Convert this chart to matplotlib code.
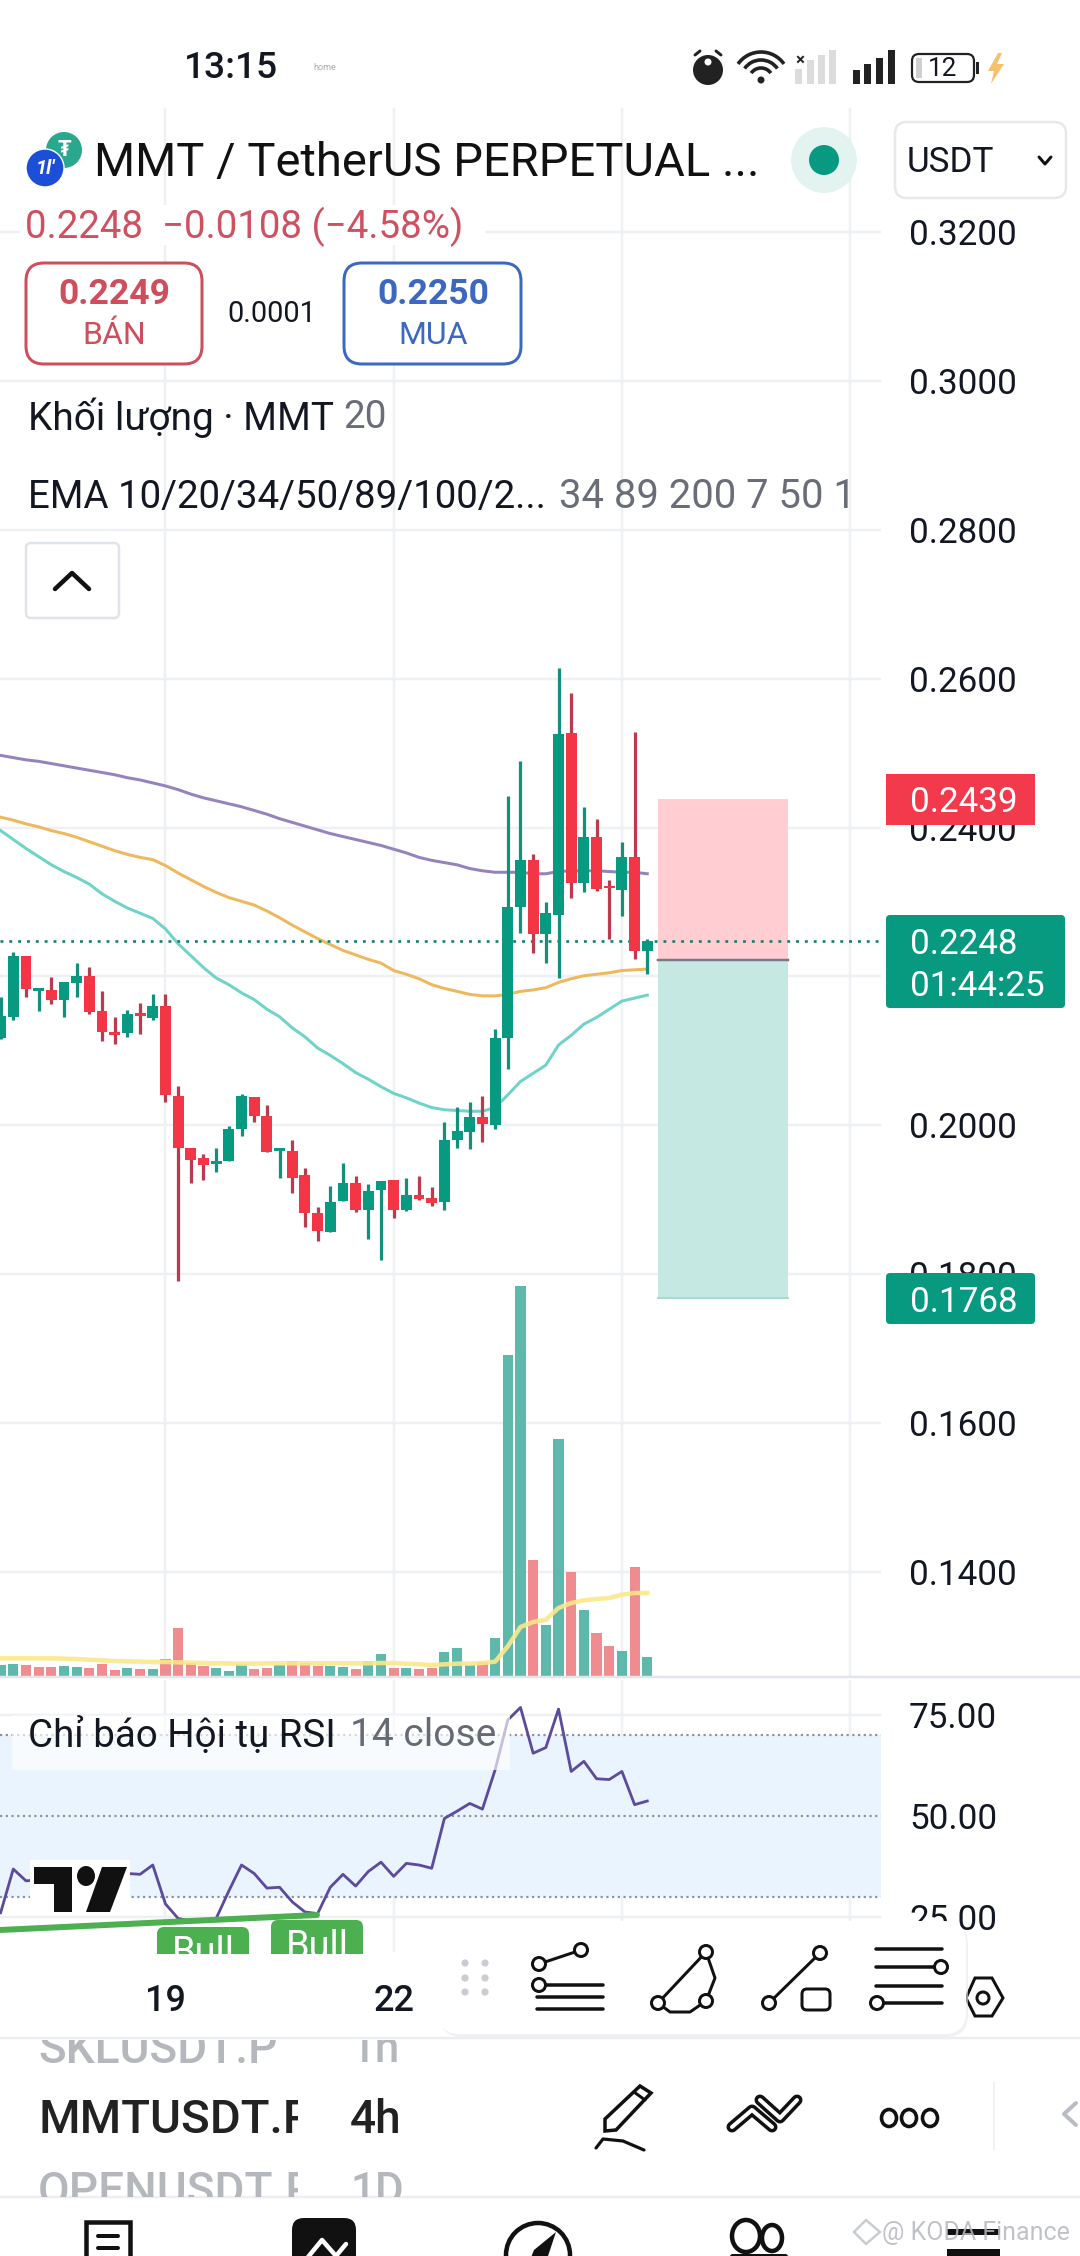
import matplotlib
matplotlib.use("Agg")
import matplotlib.pyplot as plt
from matplotlib.patches import Rectangle, FancyBboxPatch, Circle, Polygon, Arc, Ellipse

plt.rcParams["font.family"] = ["Roboto", "DejaVu Sans"]

# candles, one per 4h bar
opens = [.2117, .2145, .2227, .2180, .2182, .2169, .2191, .2201, .2154, .2126, .2124, .2151, .2144,
         .2160, .2040, .1969, .1956, .1948, .1952, .1995, .2038, .2013, .1966, .1966, .1933, .1882,
         .1857, .1898, .1923, .1887, .1913, .1926, .1886, .1907, .1902, .1897, .1980, .1991, .2011,
         .2000, .2118, .2294, .2357, .2257, .2282, .2527, .2326, .2388, .2322, .2316, .2360, .2234]
highs = [.2173, .2233, .2227, .2185, .2199, .2192, .2218, .2213, .2180, .2145, .2155, .2164, .2177,
         .2176, .2053, .1969, .1961, .1969, .1999, .2042, .2038, .2028, .1970, .1981, .1943, .1891,
         .1918, .1950, .1932, .1921, .1925, .1927, .1929, .1932, .1917, .2005, .2025, .2032, .2039,
         .2129, .2443, .2489, .2364, .2300, .2614, .2581, .2427, .2411, .2330, .2381, .2528, .2250]
lows = [.2116, .2142, .2173, .2153, .2163, .2146, .2172, .2150, .2113, .2110, .2119, .2123, .2141,
        .2032, .1791, .1923, .1927, .1937, .1952, .1986, .2005, .1964, .1930, .1909, .1864, .1845,
        .1857, .1898, .1884, .1847, .1819, .1876, .1885, .1900, .1892, .1886, .1969, .1968, .1978,
        .1995, .2076, .2259, .2231, .2218, .2198, .2306, .2313, .2315, .2251, .2281, .2223, .2203]
closes = [.2147, .2228, .2183, .2184, .2168, .2192, .2201, .2152, .2125, .2122, .2150, .2147, .2160,
          .2041, .1969, .1953, .1947, .1952, .1995, .2040, .2012, .1964, .1969, .1930, .1882, .1858,
          .1897, .1923, .1886, .1912, .1925, .1887, .1907, .1901, .1896, .1981, .1992, .2011, .2002,
          .2118, .2294, .2357, .2257, .2285, .2526, .2326, .2388, .2318, .2319, .2360, .2234, .2248]

ema_purple = [.2497, .2494, .2491, .2489, .2486, .2483, .2480, .2477, .2474, .2471, .2467, .2464, .2460,
              .2456, .2451, .2445, .2440, .2436, .2432, .2428, .2423, .2418, .2412, .2407, .2402, .2397,
              .2392, .2388, .2384, .2380, .2376, .2371, .2366, .2360, .2356, .2353, .2350, .2345, .2342,
              .2340, .2340, .2340, .2338, .2338, .2341, .2342, .2342, .2342, .2341, .2340, .2340, .2338]
ema_orange = [.2414, .2410, .2405, .2401, .2396, .2392, .2387, .2381, .2375, .2369, .2364, .2360, .2357,
              .2349, .2339, .2330, .2321, .2313, .2306, .2301, .2296, .2288, .2279, .2269, .2260, .2251,
              .2243, .2235, .2229, .2223, .2218, .2208, .2203, .2197, .2189, .2184, .2180, .2176, .2174,
              .2174, .2176, .2180, .2182, .2185, .2192, .2197, .2201, .2203, .2205, .2208, .2209, .2210]
ema_teal = [.2396, .2384, .2372, .2361, .2350, .2341, .2333, .2324, .2311, .2301, .2292, .2285, .2278,
            .2264, .2244, .2228, .2212, .2198, .2189, .2178, .2169, .2156, .2146, .2131, .2119, .2104,
            .2094, .2083, .2071, .2062, .2052, .2043, .2037, .2030, .2024, .2021, .2020, .2019, .2019,
            .2024, .2041, .2059, .2070, .2081, .2108, .2121, .2136, .2145, .2156, .2167, .2171, .2175]

volumes = [37, 40, 37, 31, 31, 33, 31, 28, 39, 21, 28, 25, 25, 55, 148, 42, 33, 28, 19, 39, 25, 28, 35, 49,
           42, 34, 33, 31, 25, 48, 70, 28, 28, 25, 28, 76, 88, 36, 44, 118, 967, 1174, 352, 157, 715, 316,
           202, 133, 94, 79, 331, 61]
volume_up = [1, 1, 0, 0, 0, 1, 1, 0, 0, 0, 1, 0, 1, 0, 0, 0, 0, 1, 1, 1, 0, 0, 1, 0, 0, 0, 1, 1, 0, 1, 1, 0,
             1, 0, 0, 1, 1, 1, 0, 1, 1, 1, 0, 1, 1, 0, 1, 0, 0, 1, 0, 1]
volume_ma = [56, 56, 56, 56, 56, 55, 54, 52, 50, 48, 47, 46, 45, 45, 44, 43, 42, 41, 41, 40, 40, 41, 41, 41,
             41, 41, 41, 41, 41, 41, 42, 42, 40, 38, 36, 38, 40, 40, 42, 46, 92, 150, 165, 172, 207, 222,
             230, 234, 237, 247, 252, 252]

rsi = [26.1, 36.9, 34.0, 34.2, 35.6, 36.9, 38.3, 37.4, 36.5, 35.6, 35.8, 35.6, 37.9, 28.3, 24.7, 24.1, 24.1,
       24.7, 31.5, 37.9, 35.8, 32.2, 32.4, 28.8, 26.3, 25.9, 32.4, 35.6, 32.7, 36.3, 38.6, 35.1, 38.3, 37.9,
       37.1, 49.4, 51.2, 53.1, 51.7, 61.4, 73.7, 76.8, 65.5, 66.9, 76.4, 61.0, 63.5, 59.2, 59.0, 61.0, 52.8, 53.7]

price_ticks = [.32, .30, .28, .26, .24, .22, .20, .18, .16, .14]
rsi_ticks = [75, 50, 25]
date_ticks = [13, 31, 49, 67]
date_labels = ["19", "22", "", ""]

last_price = 0.2248
stop_price = 0.2439
entry_price = 0.2222
target_price = 0.1768

UP = "#089981"
DOWN = "#f23645"
GRID = "#eef0f3"
INK = "#131722"
W, H = 1080, 2256
BAR_PX = 12.68
BAR0_PX = 0.6
CHART_R = 881


def pt(px):
    return px * 0.72


def pane(top, bottom):
    return fig.add_axes([0, 1 - bottom / H, CHART_R / W, (bottom - top) / H])


def bar_x(px):
    return (px - BAR0_PX) / BAR_PX


def price_at(y):
    return 0.32 - (y - 232) / 148.9 * 0.02


def rsi_at(y):
    return 50 - (y - 1816) / 4.05


fig = plt.figure(figsize=(W / 100, H / 100), dpi=100, facecolor="white")
bars = list(range(len(closes)))

ax = pane(108, 1677)
ax.set_xlim(bar_x(0), bar_x(CHART_R))
ax.set_ylim(price_at(1677), price_at(108))
ax.set_zorder(3)
ax.patch.set_visible(False)
for s in ax.spines.values():
    s.set_visible(False)
ax.set_xticks(date_ticks)
ax.set_xticklabels([])
ax.set_yticks(price_ticks)
ax.set_yticklabels([f"{v:.4f}" for v in price_ticks])
ax.yaxis.tick_right()
ax.tick_params(axis="both", length=0)
ax.tick_params(axis="y", pad=pt(28), labelsize=pt(35), labelcolor=INK)
ax.grid(True, color=GRID, lw=pt(2.5))
ax.set_axisbelow(True)

# long position tool
ax.fill_between([bar_x(658), bar_x(788)], entry_price, stop_price, color="#ffcdd2", lw=0, zorder=1)
ax.fill_between([bar_x(658), bar_x(788)], target_price, entry_price, color="#c6e8e2", lw=0, zorder=1)
ax.plot([bar_x(658), bar_x(788)], [entry_price, entry_price], color="#787b86", lw=pt(2.5), zorder=1.5)
ax.plot([bar_x(658), bar_x(788)], [target_price, target_price], color="#a6dbd2", lw=pt(2), zorder=1.5)

ax.plot(bars, ema_purple, color="#9583bd", lw=pt(3), zorder=2)
ax.plot(bars, ema_orange, color="#efb85c", lw=pt(3), zorder=2)
ax.plot(bars, ema_teal, color="#6fd3c9", lw=pt(3), zorder=2)

ax.plot([bar_x(0), bar_x(CHART_R)], [last_price, last_price], color="#0f7f6c", lw=pt(2.6),
        linestyle=(0, (1.1, 2.3)), zorder=2.5)

for i in bars:
    up = closes[i] >= opens[i]
    ax.vlines(i, lows[i], highs[i], color="#12907a" if up else "#bb3a4e", lw=pt(3.2), zorder=3)
    ax.bar(i, abs(closes[i] - opens[i]), bottom=min(opens[i], closes[i]), width=0.86,
           color=UP if up else DOWN, zorder=3.5)

# volume shares the pane and stays on top of the grid
vol_ax = pane(108, 1677)
vol_ax.set_xlim(bar_x(0), bar_x(CHART_R))
vol_ax.set_ylim(0, 1569 * 3)
vol_ax.axis("off")
vol_ax.set_zorder(4)
vol_colors = ["#5fb8ac" if u else "#f08b90" for u in volume_up]
vol_ax.bar(bars, volumes, width=0.8, color=vol_colors)
vol_ax.plot(bars, volume_ma, color="#fbe88a", lw=pt(4.5), alpha=0.9)

# rsi pane
rsi_ax = pane(1680, 1952)
rsi_ax.set_xlim(bar_x(0), bar_x(CHART_R))
rsi_ax.set_ylim(rsi_at(1952), rsi_at(1680))
rsi_ax.set_zorder(3)
for s in rsi_ax.spines.values():
    s.set_visible(False)
rsi_ax.set_xticks(date_ticks)
rsi_ax.set_xticklabels(date_labels)
rsi_ax.set_yticks(rsi_ticks)
rsi_ax.set_yticklabels([f"{v:.2f}" for v in rsi_ticks])
rsi_ax.yaxis.tick_right()
rsi_ax.tick_params(axis="both", length=0)
rsi_ax.tick_params(axis="y", pad=pt(28), labelsize=pt(35), labelcolor=INK)
rsi_ax.tick_params(axis="x", pad=pt(32), labelsize=pt(36), labelcolor=INK)
for lab in rsi_ax.get_xticklabels():
    lab.set_fontweight("medium")
rsi_ax.grid(True, color=GRID, lw=pt(2.5))
rsi_ax.set_axisbelow(True)
rsi_ax.axhspan(30, 70, color="#e9f4fe", lw=0, zorder=1)
for level in [70, 50, 30]:
    rsi_ax.axhline(level, color="#8d929c", lw=pt(2.2), linestyle=(0, (1, 1.6)), zorder=1.5)
rsi_ax.plot(bars, rsi, color="#5c4a9c", lw=pt(2.8), zorder=2)

# everything else is app chrome, drawn in screen pixels
ui = fig.add_axes([0, 0, 1, 1])
ui.set_xlim(0, W)
ui.set_ylim(H, 0)
ui.axis("off")
ui.patch.set_visible(False)
ui.set_zorder(5)


def txt(x, y, s, size, color=INK, ha="left", weight="normal", **kw):
    return ui.text(x, y, s, fontsize=pt(size), color=color, ha=ha, va="center", fontweight=weight, **kw)


def box(x0, y0, x1, y1, r, fc="white", ec="none", lw=2.0, z=3, **kw):
    p = FancyBboxPatch((x0 + r, y0 + r), x1 - x0 - 2 * r, y1 - y0 - 2 * r,
                       boxstyle=f"round,pad={r},rounding_size={r}", fc=fc, ec=ec, lw=pt(lw), zorder=z, **kw)
    ui.add_patch(p)
    return p


def ln(xs, ys, lw=3.5, color="#111", z=8):
    ui.plot(xs, ys, color=color, lw=pt(lw), zorder=z, solid_capstyle="round", solid_joinstyle="round")


def ring(x, y, r, lw=3, ec="#111", fc="white", z=9):
    ui.add_patch(Ellipse((x, y), 2 * r, 2 * r, fc=fc, ec=ec, lw=pt(lw), zorder=z))


def clipped(t, x0, y0, x1, y1):
    t.set_clip_path(Rectangle((x0, y0), x1 - x0, y1 - y0, transform=ui.transData))
    t.set_clip_on(True)


# status bar
txt(231, 69, "13:15", 37, ha="center", weight="medium")
txt(325, 68, "home", 9, color="#aaaaaa", ha="center")
ui.add_patch(Circle((708, 70), 15, fc="#222", ec="none"))
ln([695, 700], [55, 51], lw=3, color="#222")
ln([721, 716], [55, 51], lw=3, color="#222")
ui.add_patch(Circle((708, 62), 3.5, fc="white", ec="none", zorder=9))
for r in [28, 20, 12]:
    ui.add_patch(Arc((761, 80), 2 * r, 2 * r, theta1=215, theta2=325, lw=pt(3.6), color="#222"))
ui.add_patch(Circle((761, 80), 3.5, fc="#222", ec="none"))
txt(800, 60, "×", 17, ha="center", weight="bold", color="#222")
for bx, bh, bc in [(798, 15, "#dcdcdc"), (810, 24, "#dcdcdc"), (821, 29, "#dcdcdc"), (832, 34, "#dcdcdc"),
                   (856, 14, "#222"), (867, 20, "#222"), (879, 26, "#222"), (891, 34, "#222")]:
    ui.add_patch(Rectangle((bx - 3, 84 - bh), 6.5, bh, fc=bc, ec="none"))
box(912, 54, 974, 82, 7, ec="#222", lw=2.2)
ui.add_patch(Rectangle((916, 58), 6, 20, fc="#cfcfcf", ec="none", zorder=4))
ui.add_patch(Rectangle((976, 62), 3, 12, fc="#222", ec="none"))
txt(943, 69, "12", 26, ha="center", zorder=5)
ui.add_patch(Polygon([(998, 53), (988, 71), (994, 71), (991, 84), (1004, 64), (997, 64), (1002, 53)],
                     fc="#f3c26b", ec="none"))

# header
ui.add_patch(Rectangle((20, 205), 465, 40, fc="white", ec="none", zorder=1))
ui.add_patch(Circle((64, 150), 18, fc="#2aa88e", ec="none"))
txt(64, 150, "₮", 22, color="white", ha="center", weight="bold", zorder=4)
ui.add_patch(Circle((45, 168), 19, fc="#1b4fd8", ec="white", lw=1, zorder=4))
txt(45, 168, "1l'", 20, color="white", ha="center", weight="bold", style="italic", zorder=5)
txt(94, 163, "MMT / TetherUS PERPETUAL ...", 47.2, color="#111")
ui.add_patch(Circle((824, 160), 33, fc="#e3f3f0", ec="none"))
ui.add_patch(Circle((824, 160), 15, fc=UP, ec="none"))
box(895, 122, 1066, 198, 12, ec="#e6e8ec", lw=2.5)
txt(907, 162, "USDT", 35, zorder=4)
ln([1039, 1045, 1051], [157, 164, 157], lw=3, z=5)

txt(25, 227, "0.2248  −0.0108 (−4.58%)", 38.5, color="#cf5060", zorder=4)

box(26, 263, 202, 364, 18, ec="#cf4e5c", lw=3)
txt(114, 295, "0.2249", 35.5, color="#cf4e5c", ha="center", weight="bold", zorder=4)
txt(114, 335, "BÁN", 32, color="#cf4e5c", ha="center", zorder=4)
txt(272, 314, "0.0001", 29, ha="center", zorder=4)
box(344, 263, 521, 364, 18, ec="#3c68c2", lw=3)
txt(433, 295, "0.2250", 35.5, color="#3c68c2", ha="center", weight="bold", zorder=4)
txt(433, 335, "MUA", 32, color="#3c68c2", ha="center", zorder=4)

txt(28, 418, "Khối lượng · MMT", 38.8)
txt(343, 418, "20", 38.8, color="#6a6d78")
txt(28, 497, "EMA 10/20/34/50/89/100/2...", 38.5)
txt(559, 497, "34 89 200 7 50 1", 40, color="#6a6d78")

box(26, 543, 119, 618, 5, ec="#e0e3eb", lw=2.5)
ln([55, 72, 89], [589, 573, 589], lw=4.5, z=5)

# price tags
ui.add_patch(Rectangle((886, 774), 149, 51, fc="#f23a4c", ec="none", zorder=6))
txt(910, 802, "0.2439", 35, color="white", zorder=7)
box(886, 915, 1065, 1008, 4, fc=UP, z=6)
txt(910, 945, "0.2248", 35, color="white", zorder=7)
txt(910, 987, "01:44:25", 35, color="white", zorder=7)
box(886, 1273, 1035, 1324, 4, fc=UP, z=6)
txt(910, 1302, "0.1768", 35, color="white", zorder=7)

# rsi legend, logo and divergence marks
ui.add_patch(Rectangle((12, 1715), 498, 55, fc="white", alpha=0.65, ec="none", zorder=3))
txt(28, 1736, "Chỉ báo Hội tụ RSI", 38.5, zorder=4)
txt(350, 1736, "14 close", 39, color="#666a75", zorder=4)

ui.add_patch(Rectangle((30, 1860), 100, 55, fc="white", ec="none", zorder=4))
ui.add_patch(Polygon([(34, 1867), (72, 1867), (72, 1912), (54, 1912), (54, 1884), (34, 1884)], fc="#111", zorder=5))
ui.add_patch(Ellipse((86, 1876), 18, 20, fc="#111", zorder=5))
ui.add_patch(Polygon([(102, 1867), (127, 1867), (110, 1912), (86, 1912)], fc="#111", zorder=5))

ln([0, 317], [1930, 1915], lw=6, color="#4caf50", z=4)
for bx0, bx1, top, ty in [(157, 249, 1927, 1953), (271, 363, 1920, 1948)]:
    box(bx0, top, bx1, 1975, 7, fc="#4caf50", z=3.5, clip_on=True).set_clip_path(
        Rectangle((bx0, top), bx1 - bx0, 1954 - top, transform=ui.transData))
    t = txt((bx0 + bx1) / 2, ty, "Bull", 38, color="white", ha="center", zorder=4)
    clipped(t, bx0, top, bx1, 1954)

# divider and drawing toolbar
ln([0, W], [1677, 1677], lw=2.5, color="#e3e5ea", z=2)
ln([0, W], [2038, 2038], lw=2.5, color="#eceef1", z=2)
box(440, 1923, 968, 2037, 22, fc="#e9e9ec", z=6, alpha=0.6)
box(438, 1921, 966, 2034, 22, z=7)
for gx in [465, 485]:
    for gy in [1963, 1978, 1992]:
        ui.add_patch(Circle((gx, gy), 3.6, fc="#c9ccd3", ec="none", zorder=8))

ln([539, 581], [1964, 1950], lw=3)
ring(539, 1964, 6.5)
ring(581, 1950, 6.5)
ring(539, 1985, 6.5)
ln([546, 603], [1985, 1985], lw=3.5)
ln([537, 603], [1997, 1997], lw=3.5)
ln([537, 603], [2009, 2009], lw=3.5)

ln([706, 658], [1952, 2003], lw=3)
ln([706, 715, 706], [1952, 1978, 2001], lw=3)
ln([658, 670, 690, 706], [2003, 2012, 2012, 2001], lw=3)
ring(706, 1952, 6.5)
ring(658, 2003, 6.5)
ring(706, 2001, 6.5)

ln([820, 769], [1953, 2003], lw=3)
ring(820, 1953, 6.5)
ring(769, 2003, 6.5)
box(802, 1989, 830, 2010, 5, ec="#111", lw=3, z=9)

for ly, x0, x1 in [(1949, 876, 942), (1967, 876, 936), (1986, 876, 942), (2003, 883, 942)]:
    ln([x0, x1], [ly, ly], lw=3.5)
ring(941, 1967, 6.5)
ring(877, 2003, 6.5)

ui.add_patch(Polygon([(966, 1998), (975, 1978), (992, 1978), (1003, 1998), (992, 2016), (975, 2016)],
                     fc="white", ec="#111", lw=pt(3), zorder=5))
ring(983, 1998, 6, z=6)

# watchlist strip
t = txt(38, 2050, "SKLUSDT.P", 46, color="#b4b7bc", weight="medium")
clipped(t, 0, 2040, 298, 2080)
t = txt(350, 2050, "1h", 44, color="#b4b7bc", weight="medium")
clipped(t, 300, 2040, 420, 2080)
t = txt(38, 2120, "MMTUSDT.P", 47.5, color="#222", weight="medium")
clipped(t, 0, 2080, 298, 2150)
txt(350, 2120, "4h", 46, color="#222", weight="medium")
t = txt(38, 2192, "OPENUSDT.P", 46, color="#b4b7bc", weight="medium")
clipped(t, 0, 2150, 298, 2197)
t = txt(350, 2192, "1D", 44, color="#b4b7bc", weight="medium")
clipped(t, 300, 2150, 420, 2197)

ui.add_patch(Polygon([(605, 2119), (640, 2086), (651, 2093), (616, 2130), (605, 2131)],
                     fc="white", ec="#111", lw=pt(3.5), zorder=5))
ln([634, 645], [2092, 2100], lw=3, z=6)
ln([596, 603, 623, 644], [2148, 2139, 2141, 2150], lw=3.2)
ln([732, 752, 772], [2127, 2110, 2127], lw=11, z=6)
ln([732, 752, 772], [2127, 2110, 2127], lw=4, color="white", z=7)
ln([760, 780, 797], [2100, 2118, 2100], lw=11, z=6)
ln([760, 780, 797], [2100, 2118, 2100], lw=4, color="white", z=7)
for ox in [889, 909, 930]:
    ui.add_patch(Ellipse((ox, 2118), 15, 17, fc="white", ec="#111", lw=pt(3.6), zorder=5))
ln([994, 994], [2082, 2150], lw=1.5, color="#eceef1")
ln([1076, 1064, 1076], [2103, 2114, 2125], lw=4, color="#b9bcc4")

# bottom nav
ln([0, W], [2197, 2197], lw=2.5, color="#eceef1", z=2)
ui.add_patch(Rectangle((86, 2222), 44, 40, fc="white", ec="#111", lw=pt(4.5), zorder=4))
ln([98, 118], [2236, 2236], lw=4)
ln([98, 118], [2248, 2248], lw=4)
box(292, 2218, 356, 2290, 12, fc="#111", z=4)
ln([304, 322, 336, 346], [2262, 2240, 2256, 2244], lw=4.5, color="white", z=5)
ui.add_patch(Circle((538, 2255), 32, fc="white", ec="#111", lw=pt(4.5), zorder=4))
ui.add_patch(Polygon([(556, 2232), (534, 2250), (526, 2270), (546, 2262)], fc="#111", zorder=5))
ui.add_patch(Ellipse((746, 2236), 28, 32, fc="white", ec="#111", lw=pt(4.5), zorder=4))
ui.add_patch(Ellipse((772, 2238), 20, 26, fc="white", ec="#111", lw=pt(4.5), zorder=4))
ln([732, 785], [2256, 2256], lw=5)
ui.add_patch(Rectangle((947, 2229), 53, 6, fc="#111", ec="none", zorder=4))
ui.add_patch(Rectangle((947, 2249), 53, 7, fc="#111", ec="none", zorder=4))
ui.add_patch(Polygon([(866, 2220), (880, 2232), (866, 2244), (854, 2232)], fc="none", ec="#c9ccd0", lw=pt(2.5), zorder=5))
txt(882, 2233, "@ KODA Finance", 25, color="#b5b8bd", alpha=0.85, zorder=6)

fig.savefig("out.png", dpi=100, facecolor="white")
